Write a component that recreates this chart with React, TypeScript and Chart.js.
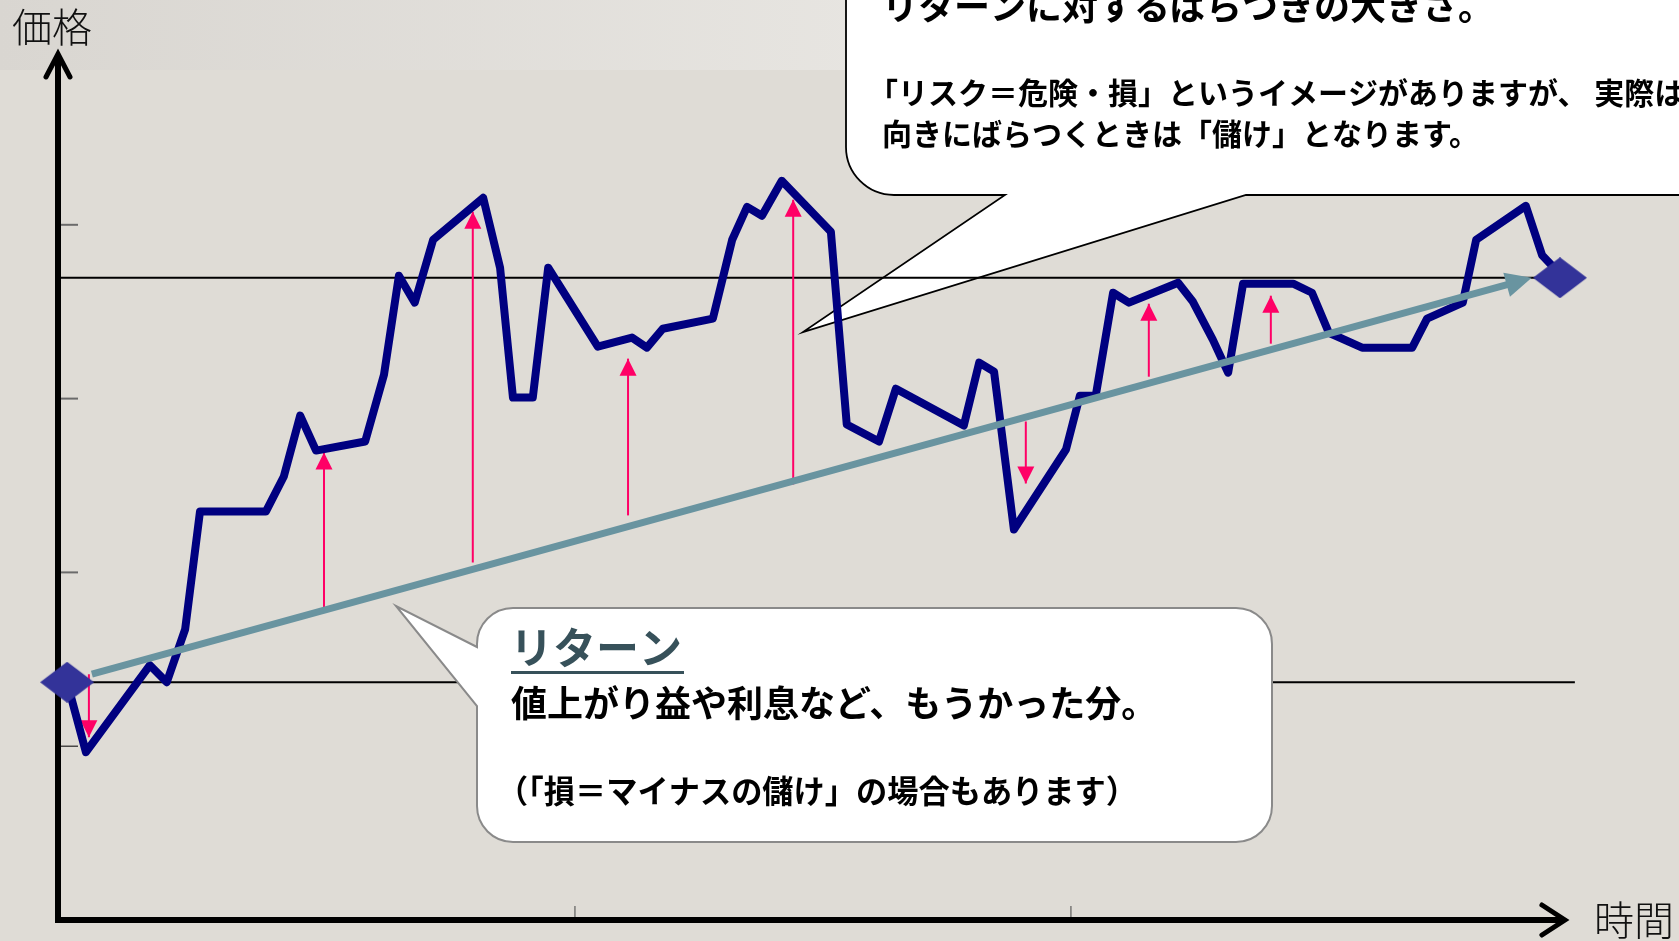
import React, { useEffect, useRef } from "react";
import { Chart, registerables } from "chart.js";

Chart.register(...registerables);

// ---------------- data (time units / price units) ----------------
const PRICE_X = [
  -0.24, 0.14, 1.43, 1.77, 2.14, 2.44, 3.77, 4.13, 4.46, 4.78,
  5.77, 6.15, 6.45, 6.77, 7.14, 8.15, 8.49, 8.75, 9.15, 9.46,
  10.46, 11.15, 11.45, 11.77, 12.78, 13.17, 13.47, 13.77, 14.17, 15.16,
  15.48, 16.13, 16.47, 17.84, 18.15, 18.45, 18.85, 19.9, 20.18, 20.5,
  20.85, 21.17, 22.16, 22.46, 22.86, 23.17, 23.47, 24.48, 24.86, 25.2,
  25.87, 26.88, 27.18, 27.9, 28.17, 29.17, 29.5, 29.72, 29.86,
];
const PRICE_Y = [
  136.8, 96.6, 146.6, 136.8, 167.2, 235.1, 235.1, 255.2, 290.2, 270.1,
  275.3, 313.8, 370.7, 355.2, 391.4, 415.5, 375.3, 300.6, 300.6, 375.3,
  329.9, 335.1, 329.3, 340.2, 346.0, 391.4, 410.3, 405.2, 425.3, 396.0,
  285.1, 275.3, 305.7, 284.5, 320.7, 315.5, 224.7, 270.7, 301.7, 301.7,
  360.9, 355.2, 366.7, 355.7, 333.9, 314.9, 366.1, 366.1, 360.9, 337.9,
  329.3, 329.3, 346.0, 355.2, 391.4, 410.9, 382.5, 375.9, 369.5,
];
const RETURN_X = [0.26, 29.29];
const RETURN_Y = [141.4, 369.5];
const PINK_X = [0.2, 4.94, 7.94, 11.07, 14.4, 19.09, 21.57, 24.03];
const PINK_FROM = [141.4, 177.6, 205.7, 232.8, 250.6, 286.8, 312.6, 331.6];
const PINK_TO = [105.2, 269.0, 407.5, 323.0, 414.4, 251.1, 354.6, 359.2];
const REF_X = [-0.48, 30.16];
const X_TICKS = [10, 20];
const Y_TICKS = [100, 200, 300, 400];
const X_END = 30;
const Y_END = 500;
const X_MIN = -0.423;
const X_MAX = 31.07;

const AXIS_X_LABEL = "時間";
const AXIS_Y_LABEL = "価格";
const TOP_LINES = [
  "リターンに対するばらつきの大きさ。",
  "「リスク＝危険・損」というイメージがありますが、 実際は",
  "向きにばらつくときは「儲け」となります。",
];
const BOTTOM_TITLE = "リターン";
const BOTTOM_LINES = [
  "値上がり益や利息など、もうかった分。",
  "（「損＝マイナスの儲け」の場合もあります）",
];

// ---------------- layout / style ----------------
const W = 1679;
const H = 941;
const JP = '"Noto Sans CJK JP", "Noto Sans CJK SC", sans-serif';
const C = {
  bg: "#dfdcd6",
  navy: "#000080",
  ret: "#6994a0",
  pink: "#ff0066",
  diamond: "#333399",
  slate: "#37515a",
};
const RET_HEAD_LEN = 26;
const RET_HEAD_HALF = 12.5;
const PINK_HEAD_LEN = 17;
const PINK_HEAD_HALF = 8.5;

const RET_INDEX = 1;
const PINK_START = 3;

function drawTopCallout(ctx: CanvasRenderingContext2D) {
  const left = 846, bottom = 195, r = 48;
  ctx.save();
  ctx.beginPath();
  ctx.moveTo(left, -30);
  ctx.lineTo(left, bottom - r);
  ctx.arcTo(left, bottom, left + r, bottom, r);
  ctx.lineTo(1005, bottom);
  ctx.lineTo(803, 332);
  ctx.lineTo(1246, bottom);
  ctx.lineTo(W + 30, bottom);
  ctx.lineTo(W + 30, -30);
  ctx.closePath();
  ctx.fillStyle = "#ffffff";
  ctx.fill();
  ctx.strokeStyle = "#000000";
  ctx.lineWidth = 1.8;
  ctx.lineJoin = "miter";
  ctx.stroke();
  ctx.restore();
}

function drawBottomCallout(ctx: CanvasRenderingContext2D) {
  const l = 477, t = 608, r = 1272, b = 842, rad = 36;
  ctx.save();
  ctx.beginPath();
  ctx.moveTo(l + rad, t);
  ctx.lineTo(r - rad, t);
  ctx.arcTo(r, t, r, t + rad, rad);
  ctx.lineTo(r, b - rad);
  ctx.arcTo(r, b, r - rad, b, rad);
  ctx.lineTo(l + rad, b);
  ctx.arcTo(l, b, l, b - rad, rad);
  ctx.lineTo(l, 706);
  ctx.lineTo(396, 606);
  ctx.lineTo(l, 647);
  ctx.lineTo(l, t + rad);
  ctx.arcTo(l, t, l + rad, t, rad);
  ctx.closePath();
  ctx.fillStyle = "#ffffff";
  ctx.fill();
  ctx.strokeStyle = "#8a8a8a";
  ctx.lineWidth = 2;
  ctx.stroke();
  ctx.restore();
}

function retPixels(chart: any) {
  const xs = chart.scales.x, ys = chart.scales.y;
  const p0 = { x: xs.getPixelForValue(RETURN_X[0]), y: ys.getPixelForValue(RETURN_Y[0]) };
  const p1 = { x: xs.getPixelForValue(RETURN_X[1]), y: ys.getPixelForValue(RETURN_Y[1]) };
  const dx = p1.x - p0.x, dy = p1.y - p0.y;
  const L = Math.hypot(dx, dy);
  return { p0, p1, ux: dx / L, uy: dy / L };
}

const annotPlugin = {
  id: "annot",
  beforeDraw(chart: any) {
    const { ctx } = chart;
    ctx.save();
    ctx.fillStyle = C.bg;
    ctx.fillRect(0, 0, W, H);
    const g = ctx.createLinearGradient(0, 0, W, 0);
    g.addColorStop(0, "#d9d6d1");
    g.addColorStop(0.55, "#e8e6e2");
    g.addColorStop(1, "#eceae6");
    ctx.fillStyle = g;
    ctx.fillRect(0, 0, W, 70);
    ctx.restore();
  },
  beforeDatasetsDraw(chart: any) {
    const { ctx, chartArea } = chart;
    const xs = chart.scales.x, ys = chart.scales.y;
    drawTopCallout(ctx);

    const x0 = chartArea.left;
    const yb = ys.getPixelForValue(0);
    const yt = ys.getPixelForValue(Y_END);
    const xr = xs.getPixelForValue(X_END);
    ctx.save();
    // ticks
    ctx.lineCap = "butt";
    Y_TICKS.forEach((v, i) => {
      const y = ys.getPixelForValue(v);
      ctx.strokeStyle = i === 0 ? "#222222" : "#6b6b6b";
      ctx.lineWidth = i === 0 ? 1.2 : 2;
      ctx.beginPath();
      ctx.moveTo(x0 + 3, y);
      ctx.lineTo(x0 + 20, y);
      ctx.stroke();
    });
    X_TICKS.forEach((v) => {
      const x = xs.getPixelForValue(v);
      ctx.strokeStyle = "#444444";
      ctx.lineWidth = 1;
      ctx.beginPath();
      ctx.moveTo(x, yb - 14);
      ctx.lineTo(x, yb - 3);
      ctx.stroke();
    });
    // axes
    ctx.strokeStyle = "#000000";
    ctx.lineWidth = 6;
    ctx.beginPath();
    ctx.moveTo(x0, yb + 3);
    ctx.lineTo(x0, yt + 4);
    ctx.stroke();
    ctx.beginPath();
    ctx.moveTo(x0 - 3, yb);
    ctx.lineTo(xr - 4, yb);
    ctx.stroke();
    ctx.lineWidth = 5;
    ctx.lineCap = "round";
    ctx.lineJoin = "miter";
    ctx.beginPath();
    ctx.moveTo(x0 - 12, yt + 26);
    ctx.lineTo(x0, yt + 3);
    ctx.lineTo(x0 + 12, yt + 26);
    ctx.stroke();
    ctx.beginPath();
    ctx.moveTo(xr - 25, yb - 15);
    ctx.lineTo(xr - 2, yb);
    ctx.lineTo(xr - 25, yb + 15);
    ctx.stroke();
    ctx.restore();
  },
  beforeDatasetDraw(chart: any, args: any) {
    if (args.index !== RET_INDEX) return;
    const { ctx } = chart;
    const { p1, ux, uy } = retPixels(chart);
    const bx = p1.x - ux * (RET_HEAD_LEN - 2);
    const by = p1.y - uy * (RET_HEAD_LEN - 2);
    const nx = -uy, ny = ux, F = 4000;
    ctx.save();
    ctx.beginPath();
    ctx.moveTo(bx + nx * F, by + ny * F);
    ctx.lineTo(bx - nx * F, by - ny * F);
    ctx.lineTo(bx - nx * F - ux * F, by - ny * F - uy * F);
    ctx.lineTo(bx + nx * F - ux * F, by + ny * F - uy * F);
    ctx.closePath();
    ctx.clip();
  },
  afterDatasetDraw(chart: any, args: any) {
    const { ctx } = chart;
    const xs = chart.scales.x, ys = chart.scales.y;
    if (args.index === RET_INDEX) {
      ctx.restore();
      const { p1, ux, uy } = retPixels(chart);
      const bx = p1.x - ux * RET_HEAD_LEN, by = p1.y - uy * RET_HEAD_LEN;
      const nx = -uy, ny = ux;
      ctx.save();
      ctx.fillStyle = C.ret;
      ctx.beginPath();
      ctx.moveTo(p1.x, p1.y);
      ctx.lineTo(bx + nx * RET_HEAD_HALF, by + ny * RET_HEAD_HALF);
      ctx.lineTo(bx - nx * RET_HEAD_HALF, by - ny * RET_HEAD_HALF);
      ctx.closePath();
      ctx.fill();
      ctx.restore();
    }
    const k = args.index - PINK_START;
    if (k >= 0 && k < PINK_X.length) {
      const x = xs.getPixelForValue(PINK_X[k]);
      const yTip = ys.getPixelForValue(PINK_TO[k]);
      const yFrom = ys.getPixelForValue(PINK_FROM[k]);
      const dir = yTip < yFrom ? 1 : -1;
      ctx.save();
      ctx.fillStyle = C.pink;
      ctx.beginPath();
      ctx.moveTo(x, yTip);
      ctx.lineTo(x - PINK_HEAD_HALF, yTip + dir * PINK_HEAD_LEN);
      ctx.lineTo(x + PINK_HEAD_HALF, yTip + dir * PINK_HEAD_LEN);
      ctx.closePath();
      ctx.fill();
      ctx.restore();
    }
  },
  afterDatasetsDraw(chart: any) {
    const { ctx } = chart;
    drawBottomCallout(ctx);
    ctx.save();
    ctx.textAlign = "left";
    ctx.textBaseline = "middle";
    // axis labels
    ctx.fillStyle = "#111111";
    ctx.font = `300 40px ${JP}`;
    ctx.fillText(AXIS_Y_LABEL, 12, 27);
    ctx.fillText(AXIS_X_LABEL, 1594, 920);
    // top callout text
    ctx.fillStyle = "#000000";
    ctx.font = `bold 36px ${JP}`;
    ctx.fillText(TOP_LINES[0], 882, 6, 615);
    ctx.font = `bold 30px ${JP}`;
    ctx.fillText(TOP_LINES[1], 868, 93);
    ctx.fillText(TOP_LINES[2], 882, 134, 600);
    // bottom callout text
    ctx.fillStyle = C.slate;
    ctx.font = `bold 43px ${JP}`;
    ctx.fillText(BOTTOM_TITLE, 510, 648);
    ctx.fillRect(511, 671, 173, 3);
    ctx.fillStyle = "#000000";
    ctx.font = `bold 36px ${JP}`;
    ctx.fillText(BOTTOM_LINES[0], 511, 703, 660);
    ctx.font = `bold 32px ${JP}`;
    ctx.fillText(BOTTOM_LINES[1], 497, 791, 640);
    ctx.restore();
  },
};

function makeDiamond(): HTMLCanvasElement {
  const c = document.createElement("canvas");
  c.width = 54;
  c.height = 41;
  const d = c.getContext("2d")!;
  d.fillStyle = C.diamond;
  d.beginPath();
  d.moveTo(27, 0);
  d.lineTo(54, 20.5);
  d.lineTo(27, 41);
  d.lineTo(0, 20.5);
  d.closePath();
  d.fill();
  return c;
}

export default function App() {
  const ref = useRef<HTMLCanvasElement | null>(null);

  useEffect(() => {
    const canvas = ref.current;
    if (!canvas) return;
    const last = PRICE_X.length - 1;
    const datasets: any[] = [
      {
        label: "start/end",
        data: [
          { x: PRICE_X[0], y: PRICE_Y[0] },
          { x: PRICE_X[last], y: PRICE_Y[last] },
        ],
        showLine: false,
        pointStyle: makeDiamond(),
        pointRadius: 20,
        order: 0,
        clip: false,
      },
      {
        label: "return",
        data: RETURN_X.map((x, i) => ({ x, y: RETURN_Y[i] })),
        borderColor: C.ret,
        borderWidth: 7,
        borderCapStyle: "butt",
        pointRadius: 0,
        order: 1,
        clip: false,
      },
      {
        label: "price",
        data: PRICE_X.map((x, i) => ({ x, y: PRICE_Y[i] })),
        borderColor: C.navy,
        borderWidth: 8,
        borderJoinStyle: "round",
        borderCapStyle: "butt",
        pointRadius: 0,
        tension: 0,
        order: 2,
        clip: false,
      },
      ...PINK_X.map((x, i) => ({
        label: "dev" + i,
        data: [
          { x, y: PINK_FROM[i] },
          { x, y: PINK_TO[i] },
        ],
        borderColor: C.pink,
        borderWidth: 2,
        pointRadius: 0,
        order: 3,
        clip: false,
      })),
      {
        label: "startLevel",
        data: REF_X.map((x) => ({ x, y: PRICE_Y[0] })),
        borderColor: "#000000",
        borderWidth: 2,
        pointRadius: 0,
        order: 4,
        clip: false,
      },
      {
        label: "endLevel",
        data: REF_X.map((x) => ({ x, y: PRICE_Y[last] })),
        borderColor: "#000000",
        borderWidth: 2,
        pointRadius: 0,
        order: 4,
        clip: false,
      },
    ];

    const chart = new Chart(canvas, {
      type: "line",
      data: { datasets },
      options: {
        responsive: false,
        devicePixelRatio: 1,
        animation: false,
        events: [],
        layout: { padding: { left: 58, right: W - 1620, top: 51, bottom: H - 921 } },
        scales: {
          x: { type: "linear", min: X_MIN, max: X_MAX, display: false },
          y: { type: "linear", min: 0, max: Y_END, display: false },
        },
        plugins: { legend: { display: false }, tooltip: { enabled: false } },
      },
      plugins: [annotPlugin as any],
    } as any);

    let alive = true;
    const fonts: any = (document as any).fonts;
    if (fonts && fonts.load) {
      Promise.all([
        fonts.load(`bold 36px ${JP}`),
        fonts.load(`300 40px ${JP}`),
      ])
        .then(() => {
          if (alive) chart.draw();
        })
        .catch(() => {});
    }
    return () => {
      alive = false;
      chart.destroy();
    };
  }, []);

  return (
    <div style={{ position: "fixed", left: 0, top: 0, width: W, height: H, overflow: "hidden" }}>
      <canvas ref={ref} width={W} height={H} style={{ display: "block", width: W, height: H }} />
    </div>
  );
}
